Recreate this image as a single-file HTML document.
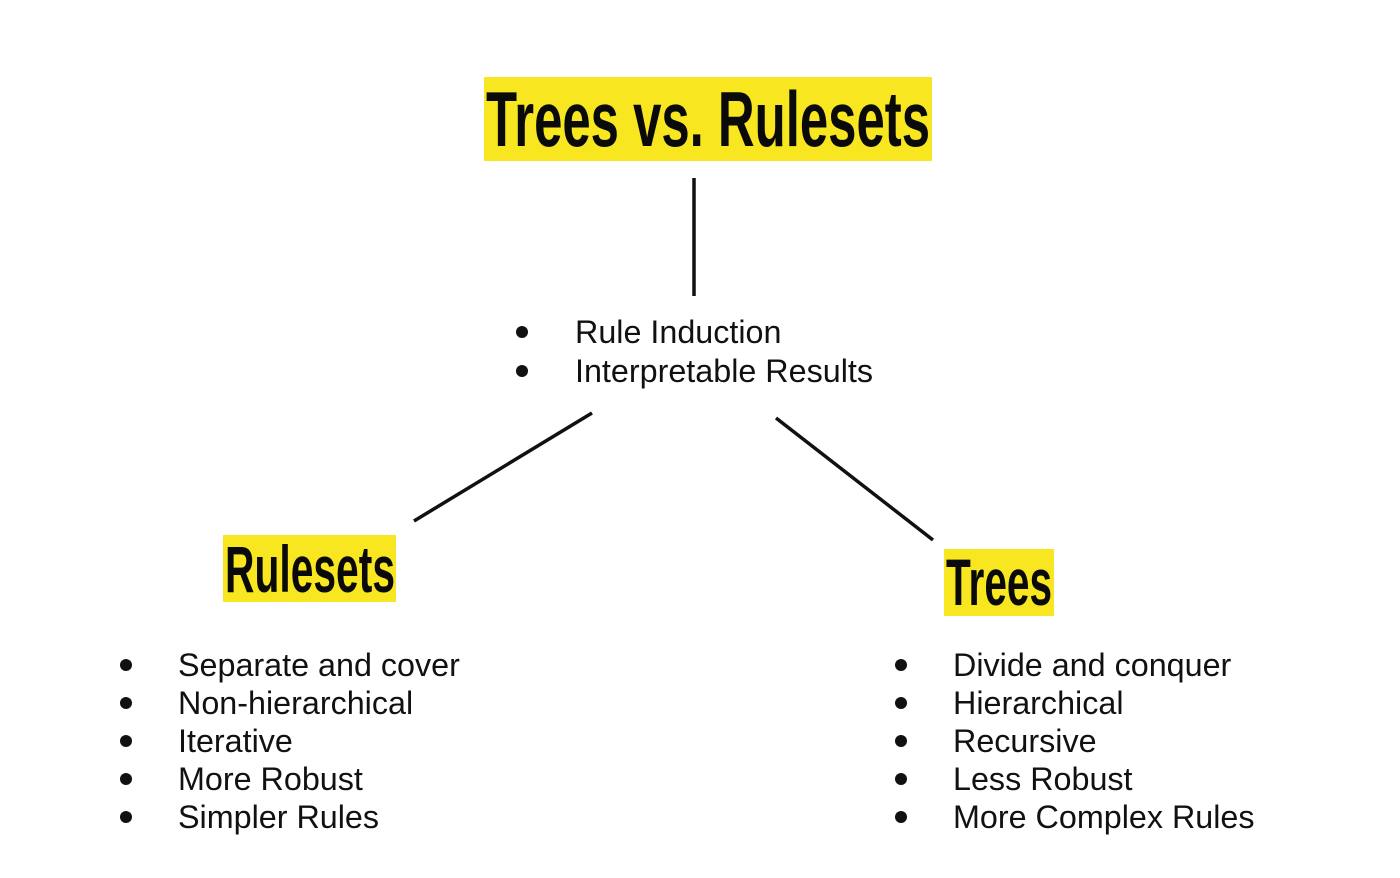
<!DOCTYPE html>
<html><head><style>
html,body{margin:0;padding:0;background:#fff;}
svg{display:block;}
text{font-family:"Liberation Sans",sans-serif;fill:#111;}
.b{font-size:32.3px;}
.h{font-family:"Liberation Sans Narrow","Liberation Sans",sans-serif;fill:#0a0a0a;font-weight:bold;}
</style></head><body>
<svg width="1400" height="878" viewBox="0 0 1400 878" xmlns="http://www.w3.org/2000/svg">
<rect x="484" y="77" width="448" height="84" fill="#f7e620"/>
<text class="h" x="486" y="146" font-size="78" textLength="444" lengthAdjust="spacingAndGlyphs">Trees vs. Rulesets</text>
<rect x="223" y="535" width="173" height="67" fill="#f7e620"/>
<text class="h" x="225" y="592" font-size="66" textLength="170" lengthAdjust="spacingAndGlyphs">Rulesets</text>
<rect x="944" y="549" width="110" height="67" fill="#f7e620"/>
<text class="h" x="946" y="605" font-size="66" textLength="106" lengthAdjust="spacingAndGlyphs">Trees</text>
<g stroke="#111" stroke-width="3.5" fill="none">
<line x1="694" y1="178" x2="694" y2="296"/>
<line x1="414" y1="521" x2="592" y2="413"/>
<line x1="776" y1="418" x2="933" y2="540"/>
</g>
<g fill="#111">
<circle cx="522" cy="332" r="6"/><circle cx="522" cy="371" r="6"/>
<circle cx="126" cy="665" r="6"/><circle cx="126" cy="703" r="6"/><circle cx="126" cy="741" r="6"/><circle cx="126" cy="779" r="6"/><circle cx="126" cy="817" r="6"/>
<circle cx="901" cy="665" r="6"/><circle cx="901" cy="703" r="6"/><circle cx="901" cy="741" r="6"/><circle cx="901" cy="779" r="6"/><circle cx="901" cy="817" r="6"/>
</g>
<text class="b" x="575" y="343">Rule Induction</text>
<text class="b" x="575" y="382">Interpretable Results</text>
<text class="b" x="178" y="676">Separate and cover</text>
<text class="b" x="178" y="714">Non-hierarchical</text>
<text class="b" x="178" y="752">Iterative</text>
<text class="b" x="178" y="790">More Robust</text>
<text class="b" x="178" y="828">Simpler Rules</text>
<text class="b" x="953" y="676">Divide and conquer</text>
<text class="b" x="953" y="714">Hierarchical</text>
<text class="b" x="953" y="752">Recursive</text>
<text class="b" x="953" y="790">Less Robust</text>
<text class="b" x="953" y="828">More Complex Rules</text>
</svg>
</body></html>
